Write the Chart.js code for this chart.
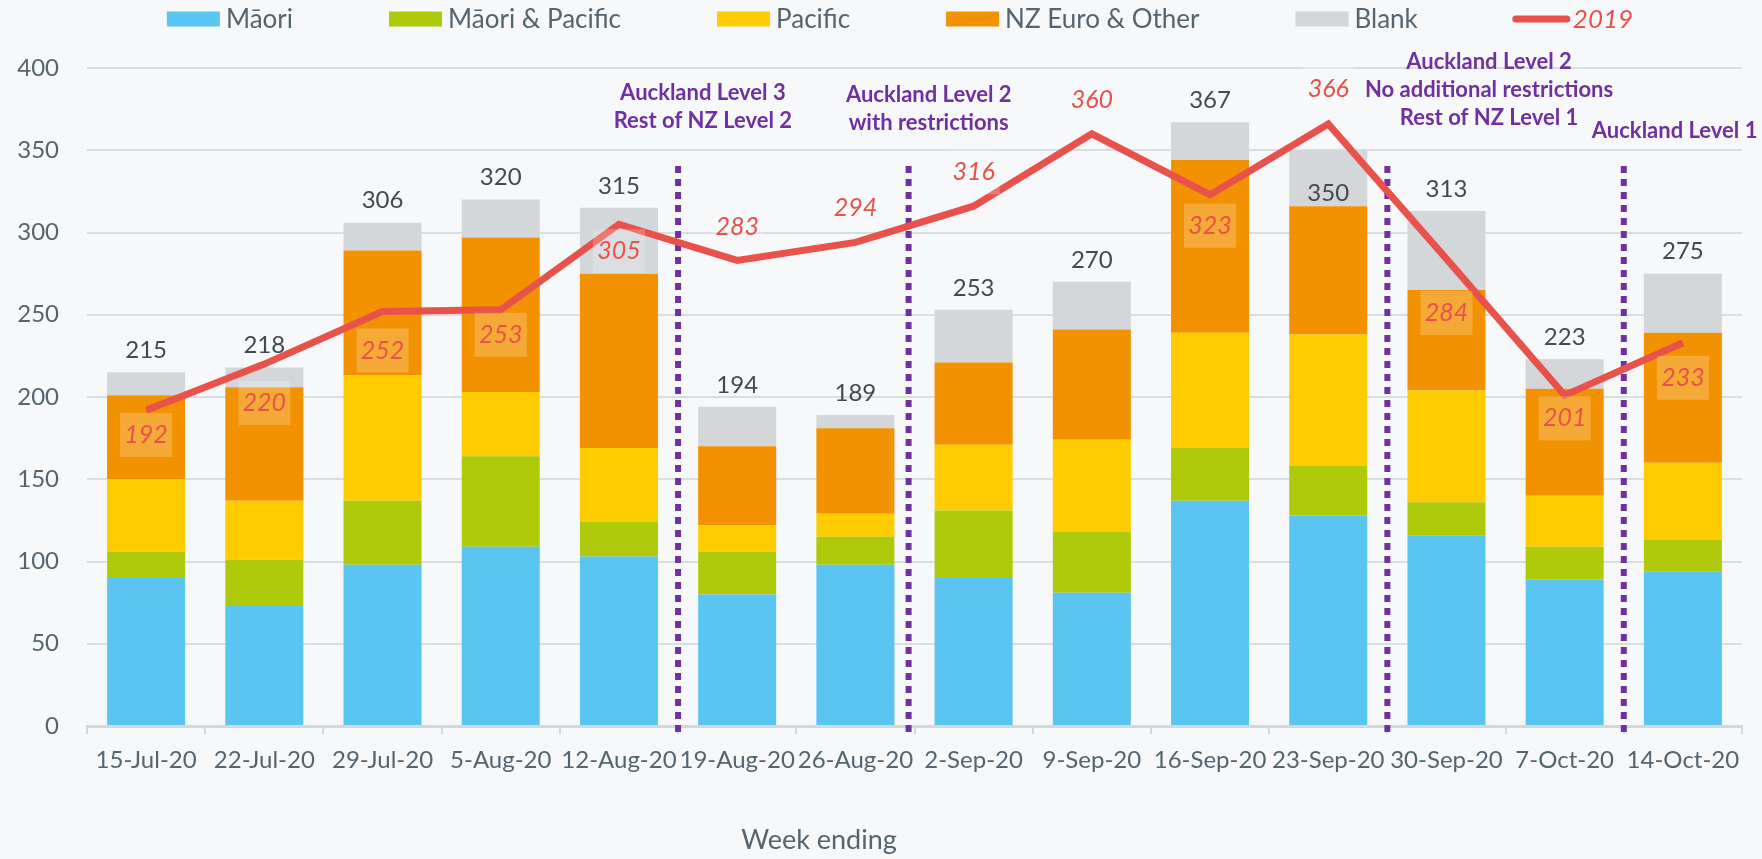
<!DOCTYPE html>
<html>
<head>
<meta charset="utf-8">
<script src="https://cdn.jsdelivr.net/npm/chart.js@4.4.1/dist/chart.umd.min.js"></script>
<style>
    html, body { margin: 0; padding: 0; background: #F6F8FA; }
    #wrap { width: 1762px; height: 859px; }
</style>
</head>
<body>
<div id="wrap"><canvas id="chart" width="1762" height="859"></canvas></div>
<script>
// Weekly counts by ethnicity
const weeks = ['15-Jul-20', '22-Jul-20', '29-Jul-20', '5-Aug-20', '12-Aug-20', '19-Aug-20', '26-Aug-20',
    '2-Sep-20', '9-Sep-20', '16-Sep-20', '23-Sep-20', '30-Sep-20', '7-Oct-20', '14-Oct-20'];
const maori = [90, 73, 98, 109, 103, 80, 98, 90, 81, 137, 128, 116, 89, 94];
const maoriPacific = [16, 28, 39, 55, 21, 26, 17, 41, 37, 32, 30, 20, 20, 19];
const pacific = [44, 36, 76, 39, 45, 16, 14, 40, 56, 70, 80, 68, 31, 47];
const nzEuroOther = [51, 69, 76, 94, 106, 48, 52, 50, 67, 105, 78, 61, 65, 79];
const blank = [14, 12, 17, 23, 40, 24, 8, 32, 29, 23, 34, 48, 18, 36];
const values2019 = [192, 220, 252, 253, 305, 283, 294, 316, 360, 323, 366, 284, 201, 233];
const yTicks = [0, 50, 100, 150, 200, 250, 300, 350, 400];

// Alert level changes (between weeks) and their notes
const levelChanges = [4.5, 6.45, 10.5, 12.5];
const levelNotes = [
    { x: 4.71, y: 385, lines: ['Auckland Level 3', 'Rest of NZ Level 2'] },
    { x: 6.62, y: 383.5, lines: ['Auckland Level 2', 'with restrictions'] },
    { x: 11.36, y: 403.5, lines: ['Auckland Level 2', 'No additional restrictions', 'Rest of NZ Level 1'] },
    { x: 12.93, y: 361.5, lines: ['Auckland Level 1'] }
];

// Label placement tweaks (pixels from the point)
const line2019LabelDy = [25, 39, 39, 25, 27, -34, -34, -34, -34, 31, -35, 54, 23, 35];
const totalsInside = [10];

const totals = weeks.map((w, i) => maori[i] + maoriPacific[i] + pacific[i] + nzEuroOther[i] + blank[i]);

const FONT = 'Lato, "Open Sans", sans-serif';
const TEXT_GREY = '#56646E';
const RED = '#E8524A';
const PURPLE = '#7030A0';

function xBetween(xScale, v) {
    const i = Math.floor(v);
    const a = xScale.getPixelForValue(i);
    const b = xScale.getPixelForValue(i + 1);
    return a + (b - a) * (v - i);
}

const overlayPlugin = {
    id: 'overlay',
    beforeDraw(chart) {
        const ctx = chart.ctx;
        ctx.save();
        ctx.fillStyle = '#F6F8FA';
        ctx.fillRect(0, 0, chart.width, chart.height);
        ctx.restore();
    },
    beforeDatasetsDraw(chart) {
        const ctx = chart.ctx;
        const xScale = chart.scales.x;
        ctx.save();
        ctx.strokeStyle = PURPLE;
        ctx.lineWidth = 6;
        ctx.setLineDash([7, 6]);
        levelChanges.forEach(v => {
            const x = xBetween(xScale, v);
            ctx.beginPath();
            ctx.moveTo(x, 166);
            ctx.lineTo(x, chart.chartArea.bottom + 7);
            ctx.stroke();
        });
        ctx.restore();
    },
    afterDatasetsDraw(chart) {
        const ctx = chart.ctx;
        const xScale = chart.scales.x;
        const yScale = chart.scales.y;
        ctx.save();

        // totals above the bars
        const topMeta = chart.getDatasetMeta(4);
        ctx.font = '24px ' + FONT;
        ctx.fillStyle = '#404A50';
        ctx.textAlign = 'center';
        ctx.textBaseline = 'middle';
        topMeta.data.forEach((bar, i) => {
            const y = totalsInside.includes(i) ? bar.y + 43 : bar.y - 22;
            ctx.fillText(totals[i], bar.x, y);
        });

        // 2019 labels
        const lineMeta = chart.getDatasetMeta(5);
        ctx.font = 'italic 25px ' + FONT;
        lineMeta.data.forEach((pt, i) => {
            const y = pt.y + line2019LabelDy[i];
            ctx.fillStyle = 'rgba(255,255,255,0.22)';
            ctx.fillRect(pt.x - 26, y - 22, 52, 44);
            ctx.fillStyle = RED;
            ctx.fillText(values2019[i], pt.x, y);
        });

        // alert level notes
        ctx.font = 'bold 22px ' + FONT;
        ctx.fillStyle = PURPLE;
        levelNotes.forEach(n => {
            const x = xBetween(xScale, n.x + 0.5) - (xScale.getPixelForValue(1) - xScale.getPixelForValue(0)) / 2;
            const y0 = yScale.getPixelForValue(n.y);
            n.lines.forEach((t, k) => ctx.fillText(t, x, y0 + k * 28));
        });

        // axis title
        ctx.font = '27px ' + FONT;
        ctx.fillStyle = TEXT_GREY;
        ctx.fillText('Week ending', 819, 840);

        // legend
        ctx.font = '26px ' + FONT;
        ctx.textAlign = 'left';
        const items = chart.data.datasets.map(ds => ({
            text: ds.label,
            line: ds.type === 'line',
            color: ds.type === 'line' ? ds.borderColor : ds.backgroundColor
        }));
        const boxW = 53, gap = 6, spacing = 96;
        const widths = items.map(it => boxW + gap + ctx.measureText(it.text).width);
        const total = widths.reduce((a, b) => a + b, 0) + spacing * (items.length - 1);
        let x = 900 - total / 2;
        const cy = 19;
        items.forEach((it, k) => {
            if (it.line) {
                ctx.strokeStyle = it.color;
                ctx.lineWidth = 7;
                ctx.lineCap = 'round';
                ctx.beginPath();
                ctx.moveTo(x + 2, cy);
                ctx.lineTo(x + boxW, cy);
                ctx.stroke();
                ctx.font = 'italic 26px ' + FONT;
                ctx.fillStyle = it.color;
            } else {
                ctx.fillStyle = it.color;
                ctx.fillRect(x, cy - 7.5, boxW, 15);
                ctx.fillStyle = TEXT_GREY;
            }
            ctx.fillText(it.text, x + boxW + gap, cy + 1);
            x += widths[k] + spacing;
        });
        ctx.restore();
    }
};

function barSet(label, data, color) {
    return {
        type: 'bar',
        label: label,
        data: data,
        backgroundColor: color,
        borderWidth: 0,
        stack: 'weeks',
        order: 1,
        barPercentage: 0.66,
        categoryPercentage: 1
    };
}

const ctx = document.getElementById('chart').getContext('2d');
new Chart(ctx, {
    data: {
        labels: weeks,
        datasets: [
            barSet('Māori', maori, '#5BC5F2'),
            barSet('Māori & Pacific', maoriPacific, '#AFCA0B'),
            barSet('Pacific', pacific, '#FFCC00'),
            barSet('NZ Euro & Other', nzEuroOther, '#F39200'),
            barSet('Blank', blank, '#D3D7DA'),
            {
                type: 'line',
                label: '2019',
                data: values2019,
                borderColor: RED,
                backgroundColor: RED,
                borderWidth: 7,
                pointRadius: 0,
                tension: 0,
                stack: 'line2019',
                order: 0
            }
        ]
    },
    options: {
        responsive: false,
        animation: false,
        layout: { padding: { top: 68, right: 20, left: 0, bottom: 0 } },
        plugins: {
            legend: { display: false },
            tooltip: { enabled: false }
        },
        scales: {
            x: {
                stacked: true,
                grid: { drawOnChartArea: false, drawTicks: true, tickLength: 8, color: '#D3D8DB', lineWidth: 2 },
                border: { color: '#D3D8DB', width: 3 },
                ticks: { color: TEXT_GREY, font: { family: FONT, size: 24 }, padding: 12, maxRotation: 0, autoSkip: false },
                afterFit: scale => { scale.height = 133; }
            },
            y: {
                stacked: true,
                min: 0,
                max: 400,
                afterBuildTicks: scale => { scale.ticks = yTicks.map(v => ({ value: v })); },
                ticks: { color: TEXT_GREY, font: { family: FONT, size: 24 }, padding: 28 },
                grid: { color: '#D9DEE1', lineWidth: 2, drawTicks: false },
                border: { display: false },
                afterFit: scale => { scale.width = 87; }
            }
        }
    },
    plugins: [overlayPlugin]
});
</script>
</body>
</html>
